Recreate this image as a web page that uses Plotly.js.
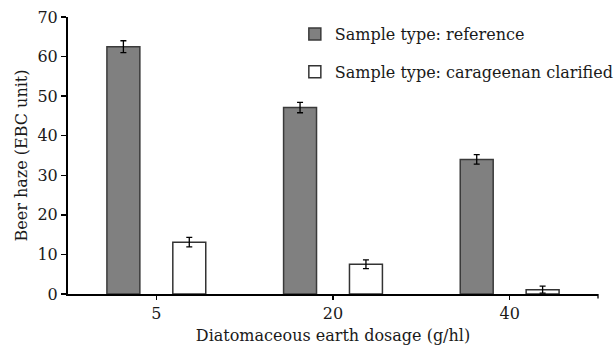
<!DOCTYPE html>
<html>
<head>
<meta charset="utf-8">
<script src="https://cdn.plot.ly/plotly-3.0.1.min.js"></script>
<style>html,body{margin:0;padding:0;background:#fff;}#chart{width:616px;height:351px;}</style>
</head>
<body>
<div id="chart"></div>
<script>
const categories = ['5', '20', '40'];
const referenceValues = [62.5, 47.1, 34.0];
const referenceErrors = [1.5, 1.3, 1.2];
const referenceLetters = ['a', 'c', 'e'];
const clarifiedValues = [13.1, 7.5, 1.1];
const clarifiedErrors = [1.2, 1.1, 0.9];
const clarifiedLetters = ['b', 'd', 'f'];
const yTicks = [0, 10, 20, 30, 40, 50, 60, 70];

const serif = 'DejaVu Serif';

const traceRef = {
  type: 'bar', x: categories, y: referenceValues,
  name: 'Sample type: reference', legendgroup: 'g1',
  marker: {color: '#808080', line: {color: '#3a3a3a', width: 1.5}},
  error_y: {type: 'data', array: referenceErrors, visible: true, color: '#000', thickness: 1.3, width: 3}
};
const traceClar = {
  type: 'bar', x: categories, y: clarifiedValues,
  name: 'Sample type: carageenan clarified', legendgroup: 'g2',
  marker: {color: '#ffffff', line: {color: '#333333', width: 1.5}},
  error_y: {type: 'data', array: clarifiedErrors, visible: true, color: '#000', thickness: 1.3, width: 3}
};

const annotations = [];
categories.forEach((c, i) => {
  annotations.push({x: c, y: referenceValues[i] + referenceErrors[i], text: referenceLetters[i],
    xshift: -33, yshift: 4, yanchor: 'bottom', showarrow: false,
    font: {family: 'DejaVu Sans', size: 12, color: '#333'}});
  annotations.push({x: c, y: clarifiedValues[i] + clarifiedErrors[i], text: clarifiedLetters[i],
    xshift: 33, yshift: 4, yanchor: 'bottom', showarrow: false,
    font: {family: 'DejaVu Sans', size: 12, color: '#333'}});
});

const layout = {
  width: 616, height: 351,
  margin: {l: 68, r: 18, t: 17, b: 57, autoexpand: false},
  paper_bgcolor: '#fff', plot_bgcolor: '#fff',
  barmode: 'group', bargap: 0.254, bargroupgap: 0.5,
  font: {family: serif, color: '#1a1a1a'},
  xaxis: {
    type: 'category', range: [-0.5, 2.5], automargin: false,
    showline: true, linecolor: '#000', linewidth: 2,
    ticks: 'outside', ticklen: 4, tickwidth: 1.3, tickcolor: '#000',
    showgrid: false, zeroline: false,
    tickfont: {family: serif, size: 16, color: '#1a1a1a'},
    title: {text: 'Diatomaceous earth dosage (g/hl)', font: {family: serif, size: 16, color: '#1a1a1a'}, standoff: 8}
  },
  yaxis: {
    range: [0, 70], tickvals: yTicks, automargin: false,
    showline: true, linecolor: '#000', linewidth: 2,
    ticks: 'outside', ticklen: 5, tickwidth: 1.3, tickcolor: '#000',
    showgrid: false, zeroline: false,
    tickfont: {family: serif, size: 16, color: '#1a1a1a'},
    title: {text: 'Beer haze (EBC unit)', font: {family: serif, size: 16, color: '#1a1a1a'}, standoff: 6}
  },
  legend: {
    x: 0.428, y: 1.0, xanchor: 'left', yanchor: 'top',
    traceorder: 'grouped', tracegroupgap: 14,
    font: {family: serif, size: 16, color: '#1a1a1a'},
    bgcolor: 'rgba(0,0,0,0)'
  },
  shapes: [{type: 'line', xref: 'paper', yref: 'paper', x0: 1, x1: 1, y0: 0, y1: -0.016,
    line: {color: '#000', width: 1.3}}],
  annotations: annotations,
  showlegend: true
};

Plotly.newPlot('chart', [traceRef, traceClar], layout, {displayModeBar: false, staticPlot: true});
</script>
</body>
</html>
